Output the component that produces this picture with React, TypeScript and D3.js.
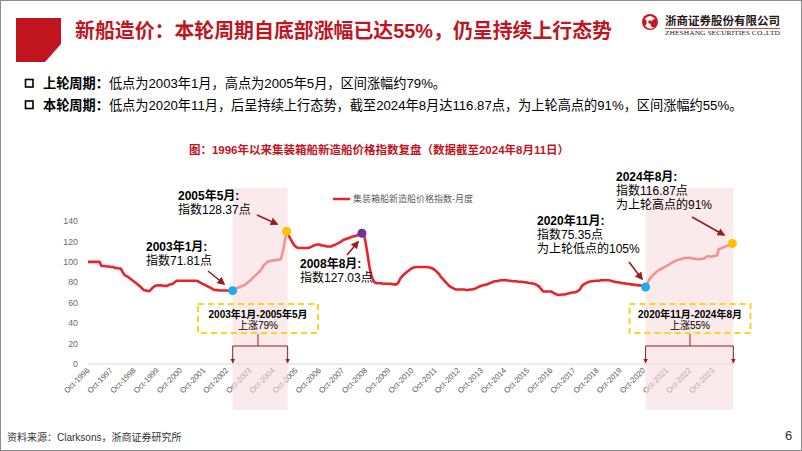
import React from 'react';
import * as d3 from 'd3';

// ---------------- DATA ----------------
// Monthly index, starting Oct-1996
const seriesStart = new Date(1996, 9, 1);
const priceIndex: number[] = [
  // Oct96-Sep97
  100, 100, 100, 100, 100, 100, 100, 96, 96, 96, 95.5, 95.5,
  // Oct97-Sep98
  95, 95, 94, 94, 93.5, 93.5, 90, 87, 86, 85, 83.5, 82,
  // Oct98-Sep99
  80.5, 79, 77.5, 76, 74, 72.5, 72, 71.5, 71.5, 73.5, 75.5, 76.5,
  // Oct99-Sep00
  77, 77, 77, 76.5, 76.5, 76.5, 77.5, 78, 78.5, 80, 81.5, 81.5,
  // Oct00-Sep01
  81.5, 81.5, 81.5, 81.5, 81.5, 81.5, 81.5, 81.5, 81.5, 81, 80, 79,
  // Oct01-Sep02
  78, 77, 76, 75, 74, 73, 72.5, 72.5, 72, 72, 72, 72,
  // Oct02-Sep03
  72, 71.8, 71.8, 71.81, 73, 74, 75, 75.5, 76.5, 77, 78.3, 80,
  // Oct03-Sep04
  81.5, 83.5, 85.5, 87, 89, 90.6, 93, 96.5, 98, 100, 100.5, 101,
  // Oct04-Sep05
  101.5, 101.5, 102, 102, 103, 110, 120, 130, 126, 122.5, 119, 116,
  // Oct05-Sep06
  114.5, 113.5, 113.5, 113.5, 113.5, 113.5, 113.5, 114, 115, 116, 116.5, 117,
  // Oct06-Sep07
  117, 116, 116, 115.5, 115, 115, 115, 116, 116.5, 117.6, 118.5, 119.5,
  // Oct07-Sep08
  121, 122, 122.5, 123, 124, 124.5, 125, 125.5, 126, 126.5, 128, 127,
  // Oct08-Sep09
  118, 106, 94, 86, 81, 79.5, 79, 79, 79, 78.5, 78.5, 78.5,
  // Oct09-Sep10
  78.5, 78.5, 78, 78, 78, 80, 84, 86, 88, 89.5, 91, 92.5,
  // Oct10-Sep11
  94, 94.5, 95, 95, 95, 95, 95, 95, 95, 94.5, 94, 93,
  // Oct11-Sep12
  92, 90, 88, 85, 83, 81, 79, 77, 75.5, 74.5, 73.5, 73,
  // Oct12-Sep13
  73, 73, 73, 73, 72.5, 72.5, 73, 73, 73.5, 74, 75, 76,
  // Oct13-Sep14
  76.5, 77, 77.5, 78, 79, 79.5, 80.5, 81, 81, 81.5, 82, 82,
  // Oct14-Sep15
  82, 82, 81.5, 81.5, 81, 81, 81, 80.5, 80.5, 80.5, 80, 80,
  // Oct15-Sep16
  79.5, 79, 79, 78.5, 78, 77, 75.5, 73, 71, 71, 71, 71,
  // Oct16-Sep17
  71, 70, 69, 68, 67.6, 67.8, 68, 68, 68.5, 69, 69.5, 70,
  // Oct17-Sep18
  70, 70.5, 71.5, 73, 76.4, 78, 79, 80, 80.5, 81, 81, 81.5,
  // Oct18-Sep19
  81.5, 81.5, 82, 82, 82, 82, 82, 81.5, 81, 80.5, 80, 80,
  // Oct19-Sep20
  79.5, 79, 79, 78.5, 78.5, 78, 78, 77.5, 77.5, 77, 77, 76.5,
  // Oct20-Sep21
  76, 75.35, 79, 83, 85.5, 87, 89, 90.5, 92, 93, 94, 95,
  // Oct21-Sep22
  96, 97, 98.5, 99.5, 100.5, 101.5, 102, 102.5, 103, 103.5, 103.8, 104,
  // Oct22-Sep23
  104, 103.5, 103, 103, 102.5, 102.5, 103, 103, 104, 105.5, 105.5, 105,
  // Oct23-Aug24
  105.5, 106, 106, 112.5, 113, 114, 114.5, 115.5, 116, 117, 118,
];

const yTicks = [0, 20, 40, 60, 80, 100, 120, 140];
const xTickYears = [
  1996, 1997, 1998, 1999, 2000, 2001, 2002, 2003, 2004, 2005, 2006, 2007, 2008, 2009,
  2010, 2011, 2012, 2013, 2014, 2015, 2016, 2017, 2018, 2019, 2020, 2021, 2022, 2023,
];

// key points: month index into priceIndex
const keyIndex = [75, 103, 142, 289, 334];
const keyColors = ['#1eaaf1', '#ffc000', '#7030a0', '#1eaaf1', '#ffc000'];

// highlighted cycles (month indices)
const cycleStart = [75, 289];
const cycleEnd = [103, 334];
const cycleTitle = ['2003年1月-2005年5月', '2020年11月-2024年8月'];
const cycleGain = ['上涨79%', '上涨55%'];

const seriesName = '集装箱船新造船价格指数-月度';

// ---------------- CHART ----------------
const W = 802;
const H = 451;
const CJK = "'Liberation Sans', 'Noto Sans CJK SC', sans-serif";
const RED = '#e8232a';
const DARKRED = '#9b1b1f';
const TITLE_RED = '#c0151f';

const dateAt = (i: number) => d3.timeMonth.offset(seriesStart, i);

export default function App() {
  const x = d3
    .scaleTime()
    .domain([new Date(1996, 9, 1), new Date(2023, 9, 1)])
    .range([88, 713]);
  const y = d3.scaleLinear().domain([0, 140]).range([364, 221]);

  const line = d3
    .line<number>()
    .x((_, i) => x(dateAt(i)))
    .y((d) => y(d));

  const pathD = line(priceIndex) || '';

  const shadeTop = 188;
  const shadeBottom = 410;

  const annLine = (
    lx: number,
    cy: number,
    lines: string[],
    key: string
  ) => (
    <g key={key} fontFamily={CJK} fontSize={12} fill="#000">
      {lines.map((t, i) => (
        <text
          key={i}
          x={lx}
          y={cy + i * 14}
          dy="0.35em"
          fontWeight={i === 0 ? 700 : 400}
        >
          {t}
        </text>
      ))}
    </g>
  );

  const arrows: [number, number, number, number][] = [
    [257, 215, 277, 224],
    [208, 271, 224, 284],
    [347, 255, 358, 242],
    [629, 262, 642, 279],
    [692, 217, 724, 235],
  ];

  return (
    <div style={{ position: 'fixed', left: 0, top: 0 }}>
      <svg width={W} height={H} style={{ display: 'block', background: '#fff' }}>
        <defs>
          <marker
            id="ah"
            viewBox="0 0 10 10"
            refX="8"
            refY="5"
            markerWidth="5"
            markerHeight="5"
            orient="auto"
          >
            <path d="M0,0 L10,5 L0,10 z" fill={DARKRED} />
          </marker>
          <marker
            id="ah2"
            viewBox="0 0 10 10"
            refX="9"
            refY="5"
            markerWidth="4.5"
            markerHeight="4.5"
            orient="auto"
          >
            <path d="M0,0 L10,5 L0,10 z" fill={DARKRED} />
          </marker>
        </defs>

        <rect x={0.5} y={0.5} width={W - 1} height={H - 1} fill="#fff" stroke="#8c8c8c" />

        {/* Header */}
        <path d="M16,18 L61,18 L61,44 L45,62 L16,62 Z" fill="#c0151f" />
        <text
          x={75}
          y={37.5}
          fontFamily={CJK}
          fontWeight={700}
          fontSize={20}
          fill={TITLE_RED}
          textLength={537}
          lengthAdjust="spacingAndGlyphs"
        >
          新船造价：本轮周期自底部涨幅已达55%，仍呈持续上行态势
        </text>

        {/* logo */}
        <g>
          <circle cx={650} cy={22} r={8} fill="#c8161d" />
          <path
            d="M645,18.5 Q650,13.5 655,18.5 Q650.5,21 650.5,24.5 Q650.5,27.5 654.5,27 Q650,31 645,26 Q648.5,23 645,18.5 Z"
            fill="#fff"
          />
          <circle cx={650} cy={22} r={1.8} fill="#c8161d" />
          <text
            x={665}
            y={25}
            fontFamily={CJK}
            fontWeight={700}
            fontSize={11.5}
            fill="#231815"
            textLength={115}
            lengthAdjust="spacingAndGlyphs"
          >
            浙商证券股份有限公司
          </text>
          <line x1={665} x2={780} y1={28.5} y2={28.5} stroke="#c8161d" strokeWidth={0.8} />
          <text
            x={665}
            y={34.5}
            fontFamily="'Liberation Serif', serif"
            fontSize={5.5}
            fill="#231815"
            textLength={115}
            lengthAdjust="spacingAndGlyphs"
          >
            ZHESHANG SECURITIES CO.,LTD
          </text>
        </g>

        {/* bullet lines */}
        <g fontFamily={CJK} fontSize={13.2} fill="#000">
          <rect x={25.5} y={79.5} width={7.5} height={7.5} fill="none" stroke="#000" strokeWidth={1.6} />
          <text x={43} y={88}>
            <tspan fontWeight={700}>上轮周期：</tspan>
            <tspan>低点为2003年1月，高点为2005年5月，区间涨幅约79%。</tspan>
          </text>
          <rect x={25.5} y={101} width={7.5} height={7.5} fill="none" stroke="#000" strokeWidth={1.6} />
          <text x={43} y={109.7}>
            <tspan fontWeight={700}>本轮周期：</tspan>
            <tspan>低点为2020年11月，后呈持续上行态势，截至2024年8月达116.87点，为上轮高点的91%，区间涨幅约55%。</tspan>
          </text>
        </g>

        {/* chart title */}
        <text
          x={379}
          y={150}
          dy="0.35em"
          textAnchor="middle"
          fontFamily={CJK}
          fontWeight={700}
          fontSize={11.5}
          fill={TITLE_RED}
        >
          图：1996年以来集装箱船新造船价格指数复盘（数据截至2024年8月11日）
        </text>

        {/* legend */}
        <line x1={333} x2={350} y1={199} y2={199} stroke={RED} strokeWidth={2.5} />
        <text x={353} y={199} dy="0.35em" fontFamily={CJK} fontSize={9} fill="#595959">
          {seriesName}
        </text>

        {/* y axis labels */}
        <g fontFamily={CJK} fontSize={8.8} fill="#6b6b6b" textAnchor="end">
          {yTicks.map((t) => (
            <text key={t} x={78} y={y(t)} dy="0.35em">
              {t}
            </text>
          ))}
        </g>

        {/* x axis */}
        <line x1={88} x2={735} y1={y(0)} y2={y(0)} stroke="#d9d9d9" strokeWidth={1} />
        <g fontFamily={CJK} fontSize={7.8} fill="#595959">
          {xTickYears.map((yr) => {
            const xx = x(new Date(yr, 9, 1));
            return (
              <text
                key={yr}
                transform={`translate(${xx + 2},${y(0) + 7}) rotate(-45)`}
                textAnchor="end"
              >
                {`Oct-${yr}`}
              </text>
            );
          })}
        </g>

        {/* series line */}
        <path d={pathD} fill="none" stroke={RED} strokeWidth={2.6} strokeLinejoin="round" />

        {/* shaded cycles */}
        {cycleStart.map((s, k) => {
          const x0 = x(dateAt(s));
          const x1 = x(dateAt(cycleEnd[k])) + 1;
          return (
            <rect
              key={k}
              x={x0}
              y={shadeTop}
              width={x1 - x0}
              height={shadeBottom - shadeTop}
              fill="#f9dcde"
              fillOpacity={0.6}
            />
          );
        })}

        {/* key points */}
        {keyIndex.map((idx, k) => (
          <circle
            key={k}
            cx={x(dateAt(idx))}
            cy={y(priceIndex[idx])}
            r={4.5}
            fill={keyColors[k]}
          />
        ))}

        {/* annotations */}
        {annLine(178, 196, ['2005年5月:', '指数128.37点'], 'a1')}
        {annLine(146, 247, ['2003年1月:', '指数71.81点'], 'a2')}
        {annLine(300, 264, ['2008年8月:', '指数127.03点'], 'a3')}
        {annLine(537, 221, ['2020年11月:', '指数75.35点', '为上轮低点的105%'], 'a4')}
        {annLine(616, 177, ['2024年8月:', '指数116.87点', '为上轮高点的91%'], 'a5')}

        {arrows.map(([ax1, ay1, ax2, ay2], i) => (
          <line
            key={i}
            x1={ax1}
            y1={ay1}
            x2={ax2}
            y2={ay2}
            stroke={DARKRED}
            strokeWidth={1.6}
            markerEnd="url(#ah)"
          />
        ))}

        {/* cycle boxes & brackets */}
        {cycleStart.map((s, k) => {
          const x0 = x(dateAt(s));
          const x1 = x(dateAt(cycleEnd[k])) + 1;
          const bw = k === 0 ? 120 : 121;
          const cx = k === 0 ? 258 : 690;
          const bx = cx - bw / 2;
          return (
            <g key={k}>
              <rect
                x={bx}
                y={304}
                width={bw}
                height={29}
                fill="#fff"
                fillOpacity={0}
                stroke="#ffd21f"
                strokeWidth={2}
                strokeDasharray="6,4"
              />
              <text
                x={cx}
                y={314.5}
                dy="0.35em"
                textAnchor="middle"
                fontFamily={CJK}
                fontSize={10}
                fontWeight={700}
                fill="#000"
              >
                {cycleTitle[k]}
              </text>
              <text
                x={cx}
                y={325.5}
                dy="0.35em"
                textAnchor="middle"
                fontFamily={CJK}
                fontSize={10}
                fill="#000"
              >
                {cycleGain[k]}
              </text>
              <path
                d={`M${cx},334 L${cx},346 M${x0},346 L${x1},346`}
                stroke={DARKRED}
                strokeWidth={1}
                fill="none"
              />
              <line x1={x0} x2={x0} y1={346} y2={363} stroke={DARKRED} strokeWidth={1} markerEnd="url(#ah2)" />
              <line x1={x1} x2={x1} y1={346} y2={363} stroke={DARKRED} strokeWidth={1} markerEnd="url(#ah2)" />
            </g>
          );
        })}

        {/* footer */}
        <text x={7} y={441} fontFamily={CJK} fontSize={10} fill="#333">
          资料来源：Clarksons，浙商证券研究所
        </text>
        <text x={785} y={440} fontFamily={CJK} fontSize={13} fill="#333">
          6
        </text>
      </svg>
    </div>
  );
}
